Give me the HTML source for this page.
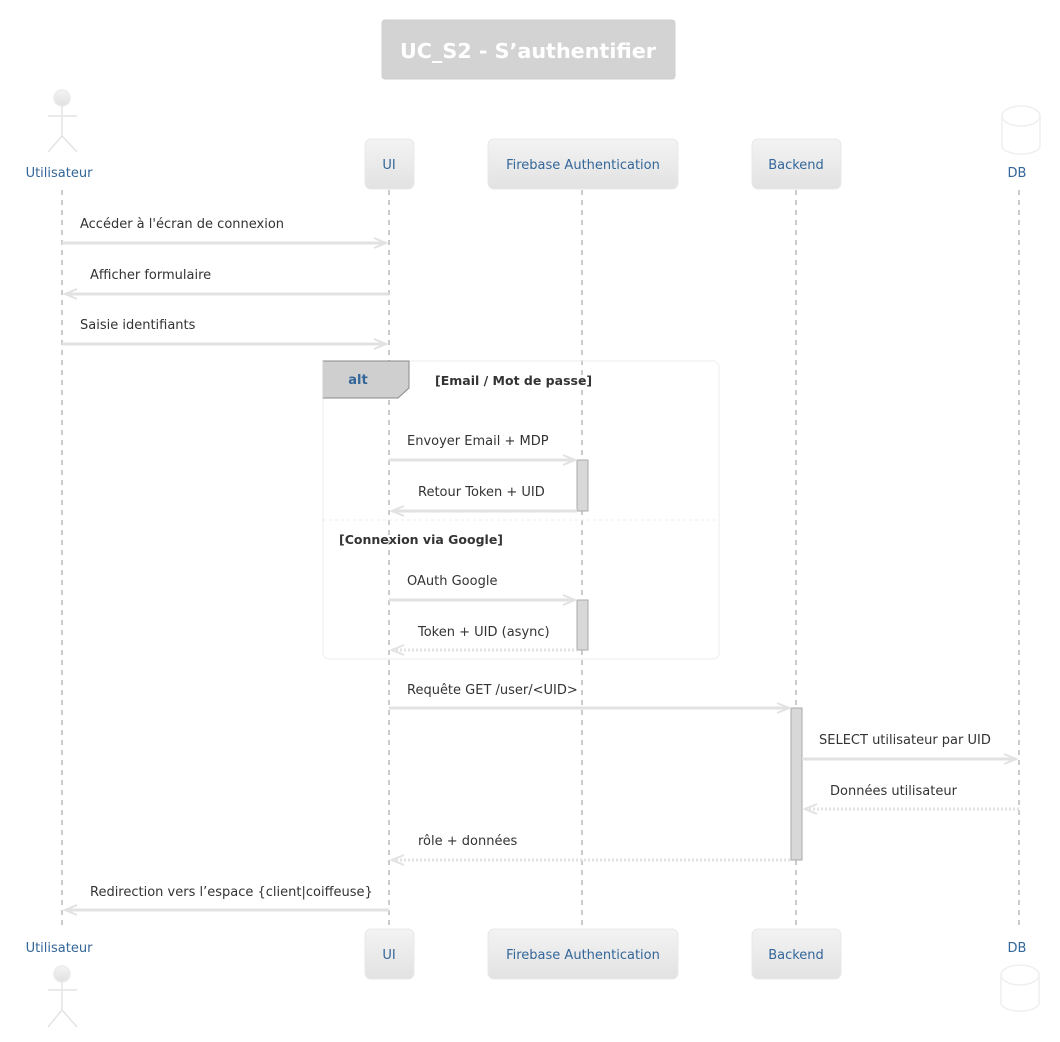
<!DOCTYPE html>
<html><head><meta charset="utf-8"><style>
html,body{margin:0;padding:0;background:#fff;}
svg text{font-family:"DejaVu Sans","Liberation Sans",sans-serif;}
</style></head><body>
<svg width="1060" height="1037" viewBox="0 0 1060 1037" xmlns="http://www.w3.org/2000/svg">
<defs>
<linearGradient id="g" x1="0" y1="0" x2="0" y2="1"><stop offset="0" stop-color="#f3f3f3"/><stop offset="1" stop-color="#e2e2e2"/></linearGradient>
<linearGradient id="h" x1="0" y1="0" x2="0" y2="1"><stop offset="0" stop-color="#f4f4f4"/><stop offset="1" stop-color="#e0e0e0"/></linearGradient>
</defs>
<rect x="382" y="20" width="293" height="59" rx="3" fill="#d3d3d3" stroke="#cfcfcf"/>
<text x="528" y="58" text-anchor="middle" font-size="20.7" font-weight="bold" fill="#fff">UC_S2 - S’authentifier</text>

<g stroke="#999" stroke-width="1" stroke-dasharray="5,5">
<line x1="62" y1="190" x2="62" y2="928"/>
<line x1="389" y1="190" x2="389" y2="928"/>
<line x1="582" y1="190" x2="582" y2="928"/>
<line x1="796" y1="190" x2="796" y2="928"/>
<line x1="1019" y1="190" x2="1019" y2="928"/>
</g>

<g stroke="#e4e4e4" stroke-width="1.5" fill="none">
<circle cx="62" cy="98" r="8" fill="url(#h)" stroke="#eaeaea"/>
<line x1="62" y1="106" x2="62" y2="136"/>
<line x1="48" y1="116" x2="77" y2="116"/>
<line x1="62" y1="136" x2="48" y2="152"/>
<line x1="62" y1="136" x2="77" y2="152"/>
</g>
<text x="59" y="177" text-anchor="middle" font-size="13" fill="#336699">Utilisateur</text>
<rect x="365" y="139" width="49" height="50" rx="6" fill="url(#g)" stroke="#e8e8e8"/>
<text x="389" y="169" text-anchor="middle" font-size="13" fill="#336699">UI</text>
<rect x="488" y="139" width="190" height="50" rx="6" fill="url(#g)" stroke="#e8e8e8"/>
<text x="583" y="169" text-anchor="middle" font-size="13" fill="#336699">Firebase Authentication</text>
<rect x="752" y="139" width="89" height="50" rx="6" fill="url(#g)" stroke="#e8e8e8"/>
<text x="796" y="169" text-anchor="middle" font-size="13" fill="#336699">Backend</text>
<g fill="#fff" stroke="#efefef" stroke-width="1.5">
<path d="M1002,116 L1002,146 A19,8 0 0 0 1040,146 L1040,116"/>
<ellipse cx="1021" cy="116" rx="19" ry="10"/>
</g>
<text x="1017" y="177" text-anchor="middle" font-size="13" fill="#336699">DB</text>

<text x="59" y="952" text-anchor="middle" font-size="13" fill="#336699">Utilisateur</text>
<g stroke="#e4e4e4" stroke-width="1.5" fill="none">
<circle cx="62" cy="974" r="8" fill="url(#h)" stroke="#eaeaea"/>
<line x1="62" y1="982" x2="62" y2="1010"/>
<line x1="48" y1="990" x2="77" y2="990"/>
<line x1="62" y1="1010" x2="48" y2="1027"/>
<line x1="62" y1="1010" x2="77" y2="1027"/>
</g>
<rect x="365" y="929" width="49" height="50" rx="6" fill="url(#g)" stroke="#e8e8e8"/>
<text x="389" y="959" text-anchor="middle" font-size="13" fill="#336699">UI</text>
<rect x="488" y="929" width="190" height="50" rx="6" fill="url(#g)" stroke="#e8e8e8"/>
<text x="583" y="959" text-anchor="middle" font-size="13" fill="#336699">Firebase Authentication</text>
<rect x="752" y="929" width="89" height="50" rx="6" fill="url(#g)" stroke="#e8e8e8"/>
<text x="796" y="959" text-anchor="middle" font-size="13" fill="#336699">Backend</text>
<text x="1017" y="952" text-anchor="middle" font-size="13" fill="#336699">DB</text>
<g fill="#fff" stroke="#efefef" stroke-width="1.5">
<path d="M1001,975 L1001,1003 A19,8 0 0 0 1039,1003 L1039,975"/>
<ellipse cx="1020" cy="975" rx="19" ry="10"/>
</g>

<rect x="323" y="361" width="396" height="298" rx="6" fill="none" stroke="#eeeeee" stroke-width="1"/>
<path d="M323,361 L409,361 L409,388 L398,398 L323,398 Z" fill="#cfcfcf" stroke="#888" stroke-width="1"/>
<line x1="323" y1="361" x2="323" y2="398" stroke="#cfcfcf"/>
<text x="358" y="384" text-anchor="middle" font-size="13" font-weight="bold" fill="#336699">alt</text>
<text x="435" y="385" font-size="12.5" font-weight="bold" fill="#333">[Email / Mot de passe]</text>
<line x1="323" y1="520" x2="719" y2="520" stroke="#eeeeee" stroke-dasharray="3,3"/>
<text x="339" y="544" font-size="12.5" font-weight="bold" fill="#333">[Connexion via Google]</text>

<g fill="#d8d8d8" stroke="#aaa" stroke-width="1">
<rect x="577" y="460" width="11" height="51"/>
<rect x="577" y="600" width="11" height="50"/>
<rect x="791" y="708" width="11" height="152"/>
</g>

<g stroke="#e2e2e2" stroke-width="3" fill="none" stroke-linecap="butt">
<line x1="62" y1="243" x2="386" y2="243"/><polyline points="374,238 386,243 374,248" stroke-width="2"/>
<line x1="65" y1="294" x2="389" y2="294"/><polyline points="77,289 65,294 77,299" stroke-width="2"/>
<line x1="62" y1="344" x2="386" y2="344"/><polyline points="374,339 386,344 374,349" stroke-width="2"/>
<line x1="389" y1="460" x2="575" y2="460"/><polyline points="563,455 575,460 563,465" stroke-width="2"/>
<line x1="392" y1="511" x2="577" y2="511"/><polyline points="404,506 392,511 404,516" stroke-width="2"/>
<line x1="389" y1="600" x2="575" y2="600"/><polyline points="563,595 575,600 563,605" stroke-width="2"/>
<line x1="392" y1="650" x2="577" y2="650" stroke-dasharray="2,2"/><polyline points="404,645 392,650 404,655" stroke-width="2"/>
<line x1="389" y1="708" x2="789" y2="708"/><polyline points="777,703 789,708 777,713" stroke-width="2"/>
<line x1="802" y1="759" x2="1016" y2="759"/><polyline points="1004,754 1016,759 1004,764" stroke-width="2"/>
<line x1="805" y1="809" x2="1019" y2="809" stroke-dasharray="2,2"/><polyline points="817,804 805,809 817,814" stroke-width="2"/>
<line x1="392" y1="860" x2="791" y2="860" stroke-dasharray="2,2"/><polyline points="404,855 392,860 404,865" stroke-width="2"/>
<line x1="65" y1="910" x2="389" y2="910"/><polyline points="77,905 65,910 77,915" stroke-width="2"/>
</g>
<g font-size="13" fill="#333">
<text x="80" y="228">Accéder à l'écran de connexion</text>
<text x="90" y="279">Afficher formulaire</text>
<text x="80" y="329">Saisie identifiants</text>
<text x="407" y="445">Envoyer Email + MDP</text>
<text x="418" y="496">Retour Token + UID</text>
<text x="407" y="585">OAuth Google</text>
<text x="418" y="636">Token + UID (async)</text>
<text x="407" y="694">Requête GET /user/&lt;UID&gt;</text>
<text x="819" y="744">SELECT utilisateur par UID</text>
<text x="830" y="795">Données utilisateur</text>
<text x="418" y="845">rôle + données</text>
<text x="90" y="896">Redirection vers l’espace {client|coiffeuse}</text>
</g>
</svg>
</body></html>
